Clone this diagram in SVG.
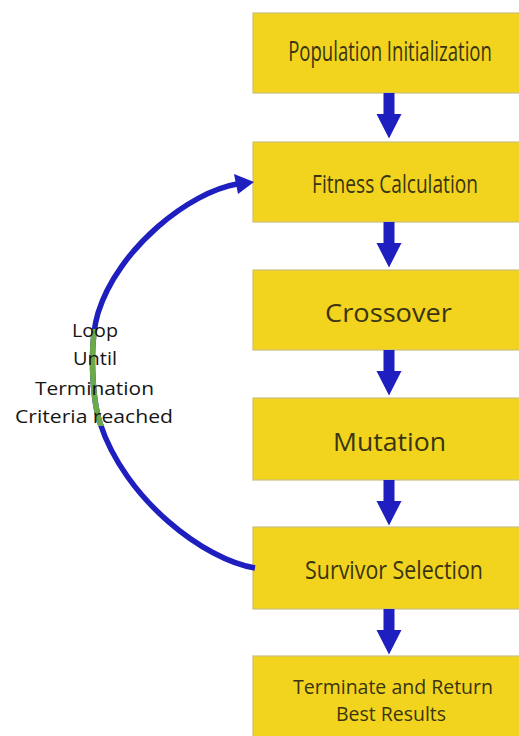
<svg xmlns="http://www.w3.org/2000/svg" xmlns:xlink="http://www.w3.org/1999/xlink" width="519" height="736" viewBox="0 0 519 736">
  <defs>
    <style>
      .box { fill: #F2D41F; stroke: #cbbf7a; stroke-width: 1.2; }
      .t { font-family: "Open Sans", "DejaVu Sans", sans-serif; fill: #3a3510; text-anchor: middle; }
      .lbl { font-family: "Open Sans", "DejaVu Sans", sans-serif; fill: #151515; text-anchor: middle; font-size: 19px; }
      .arc { fill: none; stroke: #1f1fbf; stroke-width: 5.5; stroke-linecap: butt; }
      .arc-green { fill: none; stroke: #6aaa4a; stroke-width: 5.5; }
      .blue { fill: #1f1fbf; }
    </style>
    <path id="down" d="M -5.5 0 H 5.5 V 21 H 12.5 L 0 45.5 L -12.5 21 H -5.5 Z"/>
    <clipPath id="labelClip">
      <rect x="0" y="329" width="200" height="97"/>
    </clipPath>
  </defs>
  <rect x="0" y="0" width="519" height="736" fill="#ffffff"/>

  <g id="node-population">
    <rect class="box" x="253" y="13" width="270" height="80"/>
    <text class="t" x="0" y="0" font-size="28" textLength="291" lengthAdjust="spacingAndGlyphs" transform="translate(390 61) scale(0.7 1)">Population Initialization</text>
  </g>
  <g id="node-fitness">
    <rect class="box" x="253" y="142" width="270" height="80"/>
    <text class="t" x="0" y="0" font-size="25" textLength="237" lengthAdjust="spacingAndGlyphs" transform="translate(395 193) scale(0.7 1)">Fitness Calculation</text>
  </g>
  <g id="node-crossover">
    <rect class="box" x="253" y="270" width="270" height="80"/>
    <text class="t" x="388.5" y="322" font-size="26" textLength="127" lengthAdjust="spacingAndGlyphs">Crossover</text>
  </g>
  <g id="node-mutation">
    <rect class="box" x="253" y="398" width="270" height="82"/>
    <text class="t" x="389.5" y="451" font-size="25" textLength="113" lengthAdjust="spacingAndGlyphs">Mutation</text>
  </g>
  <g id="node-survivor">
    <rect class="box" x="253" y="527" width="270" height="82"/>
    <text class="t" x="0" y="0" font-size="25" textLength="254" lengthAdjust="spacingAndGlyphs" transform="translate(394 579) scale(0.7 1)">Survivor Selection</text>
  </g>
  <g id="node-terminate">
    <rect class="box" x="253" y="656" width="270" height="90"/>
    <text class="t" x="393" y="694" font-size="20" textLength="200" lengthAdjust="spacingAndGlyphs">Terminate and Return</text>
    <text class="t" x="391" y="721" font-size="20" textLength="110" lengthAdjust="spacingAndGlyphs">Best Results</text>
  </g>

  <g id="connectors">
    <use href="#down" xlink:href="#down" class="blue" transform="translate(389 93)"/>
    <use href="#down" xlink:href="#down" class="blue" transform="translate(389 222)"/>
    <use href="#down" xlink:href="#down" class="blue" transform="translate(389 350)"/>
    <use href="#down" xlink:href="#down" class="blue" transform="translate(389 480)"/>
    <use href="#down" xlink:href="#down" class="blue" transform="translate(389 609)"/>
    <path id="loop-arc" class="arc" d="M 255 568 C 205 560, 125 500, 100 423 C 92 398, 89 343, 98 313 C 118 248, 190 192, 237 184"/>
    <path class="arc-green" clip-path="url(#labelClip)" d="M 255 568 C 205 560, 125 500, 100 423 C 92 398, 89 343, 98 313 C 118 248, 190 192, 237 184"/>
    <polygon class="blue" points="254,182 234,174 238,194"/>
  </g>

  <g id="loop-label">
    <text class="lbl" x="95" y="337" textLength="46" lengthAdjust="spacingAndGlyphs">Loop</text>
    <text class="lbl" x="95" y="365" textLength="44" lengthAdjust="spacingAndGlyphs">Until</text>
    <text class="lbl" x="94.5" y="395" textLength="119" lengthAdjust="spacingAndGlyphs">Termination</text>
    <text class="lbl" x="94" y="423" textLength="158" lengthAdjust="spacingAndGlyphs">Criteria reached</text>
  </g>
</svg>
